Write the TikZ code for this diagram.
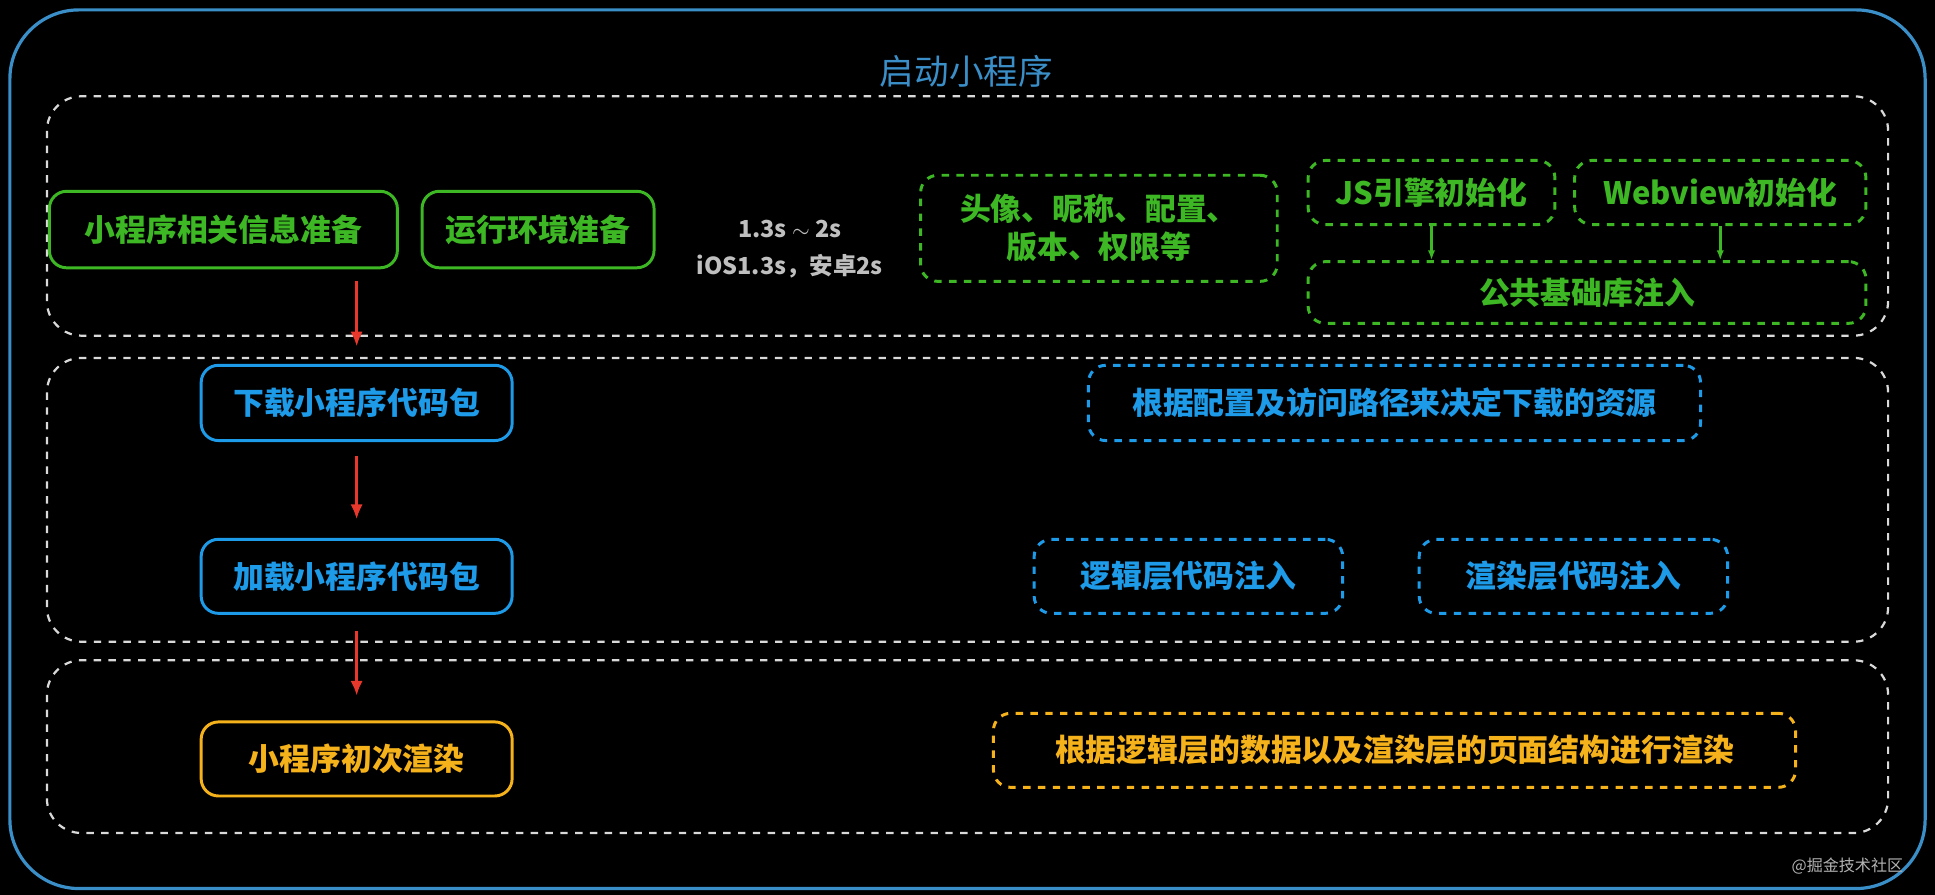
\documentclass[tikz,border=0pt]{standalone}
\usepackage{fontspec}
\setmainfont{Noto Sans CJK SC}
\usetikzlibrary{arrows.meta}
\definecolor{gr}{HTML}{3DB824}
\definecolor{bl}{HTML}{1E9BE8}
\definecolor{org}{HTML}{F5B21A}
\definecolor{rd}{HTML}{E8382B}
\definecolor{ob}{HTML}{3A8FC8}
\tikzset{
 base/.style={rounded corners=7pt, line width=1.2pt, align=center, font=\bfseries\fontsize{12.5}{15.5}\selectfont, inner sep=0pt},
 gs/.style={base, draw=gr, text=gr}, gd/.style={gs, dashed},
 bs/.style={base, draw=bl, text=bl}, bd/.style={bs, dashed},
 os/.style={base, draw=org, text=org}, od/.style={os, dashed},
 grp/.style={draw=white!85!black, dashed, line width=0.9pt, rounded corners=14pt},
 ra/.style={rd, line width=1.2pt, -{Latex[length=6pt,width=5pt]}},
 ga/.style={gr, line width=1pt, -{Latex[length=4pt]}}
}
\newcommand{\bx}[6]{\node[#1, minimum width=#4*0.5pt-#2*0.5pt, minimum height=#5*0.5pt-#3*0.5pt] (#6) at ({(#2+#4)/2},{(#3+#5)/2})}
\begin{document}
\begin{tikzpicture}[x=0.5pt,y=-0.5pt]
\fill[black] (0,0) rectangle (1568,725);
\useasboundingbox (0,0) rectangle (1568,725);
\draw[ob, line width=1.3pt, rounded corners=28pt] (8,8) rectangle (1560,720);
\node[text=ob, font=\fontsize{14}{16}\selectfont] (title) at (783,58) {启动小程序};
\draw[grp] (38,78) rectangle (1530,272);
\draw[grp] (38,290) rectangle (1530,520);
\draw[grp] (38,535) rectangle (1530,675);
\bx{gs}{40}{155}{322}{217}{a} {小程序相关信息准备};
\bx{gs}{342}{155}{530}{217}{b} {运行环境准备};
\node[text=white!75!black, font=\bfseries\fontsize{9.5}{15}\selectfont, align=center] (t) at (640,202) {1.3s $\sim$ 2s\\iOS1.3s，安卓2s};
\bx{gd}{746}{142}{1035}{228}{c} {头像、昵称、配置、\\版本、权限等};
\bx{gd}{1060}{130}{1260}{182}{js} {JS引擎初始化};
\bx{gd}{1276}{130}{1512}{182}{wv} {Webview初始化};
\bx{gd}{1060}{212}{1512}{262}{pub} {公共基础库注入};
\draw[ga] (js.south) coordinate (j1) -- (j1 |- pub.north);
\draw[ga] (wv.south) coordinate (w1) -- (w1 |- pub.north);
\bx{bs}{163}{296}{415}{357}{dl} {下载小程序代码包};
\bx{bs}{163}{437}{415}{497}{ld} {加载小程序代码包};
\bx{bd}{882}{296}{1378}{357}{cfg} {根据配置及访问路径来决定下载的资源};
\bx{bd}{838}{437}{1088}{497}{lg} {逻辑层代码注入};
\bx{bd}{1150}{437}{1400}{497}{rl} {渲染层代码注入};
\bx{os}{163}{585}{415}{645}{fr} {小程序初次渲染};
\bx{od}{805}{578}{1455}{638}{rr} {根据逻辑层的数据以及渲染层的页面结构进行渲染};
\coordinate (s1) at (289,228);
\draw[ra] (s1) -- ([yshift=7pt]dl.north);
\draw[ra] ([yshift=-5.5pt]dl.south) -- ([yshift=7.5pt]ld.north);
\draw[ra] ([yshift=-6.5pt]ld.south) -- ([yshift=10pt]fr.north);
\node[text=white!70!black, font=\fontsize{6.5}{8}\selectfont] (wm) at (1497,702) {@掘金技术社区};
\end{tikzpicture}
\end{document}
